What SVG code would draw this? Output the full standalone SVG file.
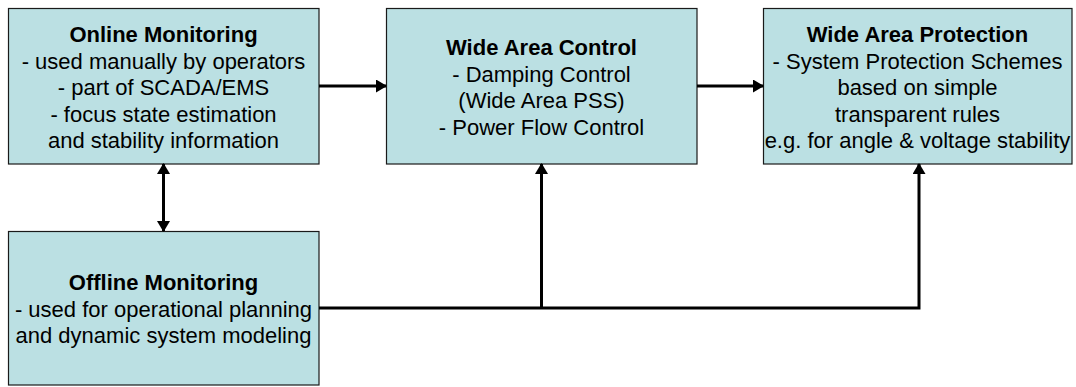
<svg xmlns="http://www.w3.org/2000/svg" width="1076" height="387" viewBox="0 0 1076 387">
<style>
.box{fill:#BBE0E3;stroke:#1a1a1a;stroke-width:1.2}
text{font-family:"Liberation Sans",Arial,sans-serif;font-size:22px;fill:#000;text-anchor:middle}
.b{font-weight:bold}
.c{fill:none;stroke:#000;stroke-width:3}
</style>
<defs>
<marker id="ah" markerUnits="userSpaceOnUse" markerWidth="11" markerHeight="13" refX="10" refY="6.5" orient="auto-start-reverse" viewBox="0 0 11 13">
<path d="M0,0 L11,6.5 L0,13 z" fill="#000"/>
</marker>
</defs>
<g id="online">
<rect class="box" x="8.5" y="8.5" width="310.5" height="155.5"/>
<text x="163.5" y="42" class="b">Online Monitoring</text>
<text x="163.5" y="68.5">- used manually by operators</text>
<text x="163.5" y="95">- part of SCADA/EMS</text>
<text x="163.5" y="121.5">- focus state estimation</text>
<text x="163.5" y="148">and stability information</text>
</g>
<g id="wac">
<rect class="box" x="386.5" y="8.5" width="310.5" height="155.5"/>
<text x="541.5" y="55" class="b">Wide Area Control</text>
<text x="541.5" y="81.5">- Damping Control</text>
<text x="541.5" y="108">(Wide Area PSS)</text>
<text x="541.5" y="134.5">- Power Flow Control</text>
</g>
<g id="wap">
<rect class="box" x="763.5" y="8.5" width="308.5" height="155.5"/>
<text x="917.5" y="42" class="b">Wide Area Protection</text>
<text x="917.5" y="68.5">- System Protection Schemes</text>
<text x="917.5" y="95">based on simple</text>
<text x="917.5" y="121.5">transparent rules</text>
<text x="917.5" y="148">e.g. for angle &amp; voltage stability</text>
</g>
<g id="offline">
<rect class="box" x="8.5" y="231.5" width="310.5" height="153.5"/>
<text x="163.5" y="290" class="b">Offline Monitoring</text>
<text x="163.5" y="316.5">- used for operational planning</text>
<text x="163.5" y="343">and dynamic system modeling</text>
</g>
<g id="connectors">
<line class="c" x1="319" y1="86" x2="386" y2="86" marker-end="url(#ah)"/>
<line class="c" x1="697" y1="86" x2="763" y2="86" marker-end="url(#ah)"/>
<line class="c" x1="163.5" y1="164" x2="163.5" y2="231" marker-start="url(#ah)" marker-end="url(#ah)"/>
<polyline class="c" points="319,308 919,308 919,164" marker-end="url(#ah)"/>
<line class="c" x1="541.5" y1="308" x2="541.5" y2="164" marker-end="url(#ah)"/>
</g>
</svg>
